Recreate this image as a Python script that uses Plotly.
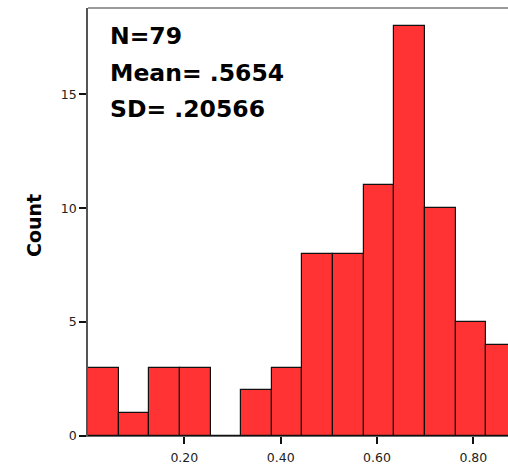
import plotly.graph_objects as go

# Histogram data
bin_start = 0.0
bin_width = 0.0636
counts = [3, 1, 3, 3, 0, 2, 3, 8, 8, 11, 18, 10, 5, 4]
x_tickvals = [0.2, 0.4, 0.6, 0.8]
x_ticktext = ["0.20", "0.40", "0.60", "0.80"]
y_tickvals = [0, 5, 10, 15]
y_ticktext = ["0", "5", "10", "15"]
stats_lines = ["N=79", "Mean= .5654", "SD= .20566"]
y_title = "Count"

centers = [bin_start + (i + 0.5) * bin_width for i in range(len(counts))]

W, H = 508, 464
L, R, T, B = 88, 0, 8, 28
plot_h = H - T - B
plot_w = W - L - R

def px_to_paper_y(py):
    return (H - B - py) / plot_h

def px_to_paper_x(px):
    return (px - L) / plot_w

fig = go.Figure()
fig.add_trace(go.Bar(
    x=centers, y=counts, width=bin_width,
    marker=dict(color="#FF3333", line=dict(color="#111111", width=1.2)),
    hoverinfo="skip",
))

font_tick = dict(family="DejaVu Sans", size=12.5, color="#222222")

fig.update_layout(
    width=W, height=H,
    margin=dict(l=L, r=R, t=T, b=B, pad=0),
    paper_bgcolor="white", plot_bgcolor="white",
    showlegend=False,
    bargap=0,
    xaxis=dict(range=[0, plot_w / 481.7], tickvals=x_tickvals, ticktext=x_ticktext,
               ticks="outside", ticklen=7, tickwidth=2, tickcolor="#111111",
               showline=True, linecolor="#666666", linewidth=1,
               ticklabelstandoff=3,
               showgrid=False, zeroline=False, tickfont=font_tick, fixedrange=True),
    yaxis=dict(range=[0, plot_h / 22.78], tickvals=y_tickvals, ticktext=y_ticktext,
               ticks="outside", ticklen=7, tickwidth=2, tickcolor="#111111",
               showline=True, linecolor="#555555", linewidth=1.5,
               showgrid=False, zeroline=False, tickfont=font_tick, fixedrange=True),
)

# top border line of the frame
fig.add_shape(type="line", xref="paper", yref="paper", x0=0, x1=1, y0=1, y1=1,
              line=dict(color="#777777", width=1.5))

line_centers_px = [36, 73, 109.2]
for txt, cy in zip(stats_lines, line_centers_px):
    fig.add_annotation(text=txt, xref="paper", yref="paper",
                       x=px_to_paper_x(108), y=px_to_paper_y(cy),
                       xanchor="left", yanchor="middle", showarrow=False,
                       font=dict(family="DejaVu Sans", size=23.5, color="black", weight="bold"))

fig.add_annotation(text="<b>%s</b>" % y_title, xref="paper", yref="paper",
                   x=px_to_paper_x(34.5), y=px_to_paper_y(225.5),
                   xanchor="center", yanchor="middle", textangle=-90, showarrow=False,
                   font=dict(family="DejaVu Sans", size=19, color="black"))

fig.write_html("out.html")
